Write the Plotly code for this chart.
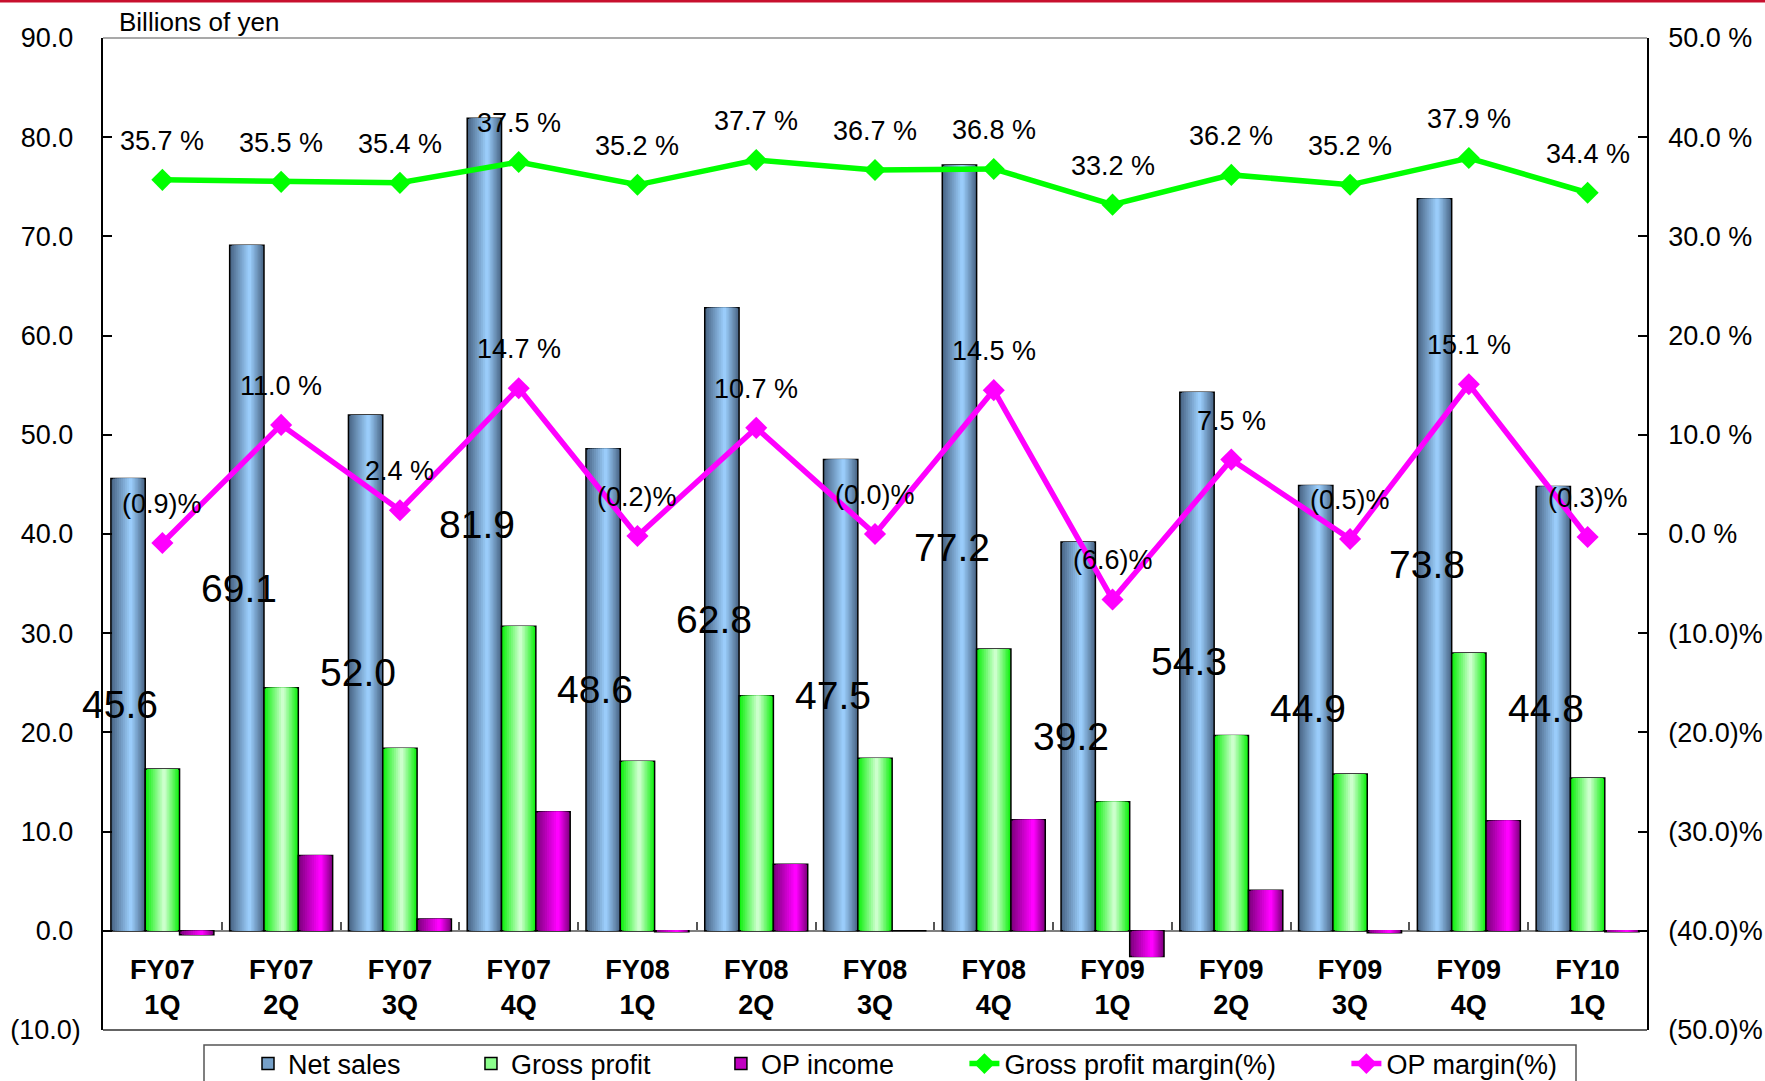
import math
import plotly.graph_objects as go

# Quarterly results, billions of yen
quarters = ["FY07<br>1Q", "FY07<br>2Q", "FY07<br>3Q", "FY07<br>4Q",
            "FY08<br>1Q", "FY08<br>2Q", "FY08<br>3Q", "FY08<br>4Q",
            "FY09<br>1Q", "FY09<br>2Q", "FY09<br>3Q", "FY09<br>4Q",
            "FY10<br>1Q"]
net_sales = [45.6, 69.1, 52.0, 81.9, 48.6, 62.8, 47.5, 77.2, 39.2, 54.3, 44.9, 73.8, 44.8]
gross_profit = [16.3, 24.5, 18.4, 30.7, 17.1, 23.7, 17.4, 28.4, 13.0, 19.7, 15.8, 28.0, 15.4]
op_income = [-0.4, 7.6, 1.2, 12.0, -0.1, 6.7, 0.0, 11.2, -2.6, 4.1, -0.2, 11.1, -0.1]

# Margins, percent
gross_margin = [35.7, 35.5, 35.4, 37.5, 35.2, 37.7, 36.7, 36.8, 33.2, 36.2, 35.2, 37.9, 34.4]
op_margin = [-0.9, 11.0, 2.4, 14.7, -0.2, 10.7, -0.0, 14.5, -6.6, 7.5, -0.5, 15.1, -0.3]

left_ticks = [-10, 0, 10, 20, 30, 40, 50, 60, 70, 80, 90]
right_ticks = [-50, -40, -30, -20, -10, 0, 10, 20, 30, 40, 50]

FONT = "Arial, Liberation Sans, sans-serif"
W, H = 1765, 1081
ML, MR, MT, MB = 103, 118, 38, 51
PW, PH = W - ML - MR, H - MT - MB


def px_x(p):
    return (p - ML) / PW


def px_y(p):
    return (H - MB - p) / PH


def is_negative(v):
    return v < 0 or (v == 0 and math.copysign(1.0, v) < 0)


def pct_text(v):
    return f"({abs(v):.1f})%" if is_negative(v) else f"{v:.1f} %"


def left_tick_text(v):
    return f"({abs(v):.1f})" if v < 0 else f"{v:.1f}\u00a0"


def hex_to_rgb(h):
    h = h.lstrip("#")
    return tuple(int(h[i:i + 2], 16) for i in (0, 2, 4))


def mix(c1, c2, t):
    a, b = hex_to_rgb(c1), hex_to_rgb(c2)
    return "rgb(%d,%d,%d)" % tuple(round(a[i] + (b[i] - a[i]) * t) for i in range(3))


BW = 0.289  # width of one bar, in category units
LAYERS = 10

fig = go.Figure()


def gradient_bars(values, left, edge, peak, peak_pos):
    """Cylinder-style bars built from nested bars of narrowing width."""
    for k in range(LAYERS):
        t = k / LAYERS
        lo = left + BW * peak_pos * t
        hi = left + BW - BW * (1 - peak_pos) * t
        fig.add_trace(go.Bar(
            x=quarters, y=values, offset=lo, width=hi - lo,
            marker=dict(color=mix(edge, peak, k / (LAYERS - 1)),
                        line=dict(color="black", width=1.5 if k == 0 else 0)),
            showlegend=False, hoverinfo="skip" if k else None,
        ))


gradient_bars(net_sales, -1.5 * BW, "#4a6787", "#9accfa", 0.58)
gradient_bars(gross_profit, -0.5 * BW, "#10f010", "#ccffcc", 0.55)
gradient_bars(op_income, 0.5 * BW, "#800080", "#ff00ff", 0.65)

# legend entries for the bar series
pad = "\u00a0" * 8 + "\u2009"
for name, col in [("Net sales", "#76a0c8"), ("Gross profit", "#8cff8c"), ("OP income", "#c000c0")]:
    fig.add_trace(go.Bar(x=[None], y=[None], name=name + pad,
                         marker=dict(color=col, line=dict(color="black", width=1.5))))

fig.add_trace(go.Scatter(
    x=quarters, y=gross_margin, yaxis="y2", mode="lines+markers",
    name="Gross profit margin(%)" + pad,
    line=dict(color="#00ff00", width=5.5),
    marker=dict(symbol="diamond", size=17, color="#00ff00"),
))
fig.add_trace(go.Scatter(
    x=quarters, y=op_margin, yaxis="y2", mode="lines+markers",
    name="OP margin(%)" + "\u00a0" * 2,
    line=dict(color="#ff00ff", width=5.5),
    marker=dict(symbol="diamond", size=17, color="#ff00ff"),
))

annotations = []
for q, v in zip(quarters, net_sales):
    annotations.append(dict(x=q, y=v / 2, xref="x", yref="y", text=f"{v:.1f}",
                            showarrow=False, xshift=-42,
                            font=dict(family=FONT, size=39, color="black")))
for series in (gross_margin, op_margin):
    for q, v in zip(quarters, series):
        annotations.append(dict(x=q, y=v, xref="x", yref="y2", text=pct_text(v),
                                showarrow=False, yshift=39, yanchor="middle",
                                font=dict(family=FONT, size=27, color="black")))
annotations.append(dict(x=px_x(117), y=px_y(22), xref="paper", yref="paper",
                        xanchor="left", yanchor="middle", showarrow=False,
                        text="Billions of yen",
                        font=dict(family=FONT, size=26, color="black")))

shapes = [
    # plot frame, top and bottom
    dict(type="line", xref="paper", yref="paper", x0=0, x1=1, y0=1, y1=1,
         line=dict(color="#8c8c8c", width=1.5)),
    dict(type="line", xref="paper", yref="paper", x0=0, x1=1, y0=0, y1=0,
         line=dict(color="#303030", width=1.5)),
    # legend frame
    dict(type="rect", xref="paper", yref="paper", x0=px_x(204), x1=px_x(1576),
         y0=px_y(1100), y1=px_y(1045), line=dict(color="#555555", width=1.5)),
    # red rule along the top of the page
    dict(type="rect", xref="paper", yref="paper", x0=px_x(-5), x1=px_x(W + 5),
         y0=px_y(2.5), y1=px_y(-1), line=dict(width=0), fillcolor="#c8102e"),
]

fig.update_layout(
    width=W, height=H, autosize=False,
    margin=dict(l=ML, r=MR, t=MT, b=MB, pad=0, autoexpand=False),
    paper_bgcolor="white", plot_bgcolor="white",
    barmode="overlay",
    font=dict(family=FONT, size=27, color="black"),
    showlegend=True,
    legend=dict(orientation="h", x=px_x(248), xanchor="left",
                y=px_y(1064), yanchor="middle",
                bgcolor="rgba(0,0,0,0)", borderwidth=0,
                font=dict(family=FONT, size=27, color="black"),
                traceorder="normal"),
    xaxis=dict(type="category", categoryorder="array", categoryarray=quarters,
               range=[-0.5, len(quarters) - 0.5],
               anchor="free", position=(0 - left_ticks[0]) / (left_ticks[-1] - left_ticks[0]),
               showline=True, linecolor="#808080", linewidth=2,
               ticks="inside", tickson="boundaries", ticklen=8, tickwidth=1.5,
               tickcolor="#555555", showgrid=False, zeroline=False,
               layer="below traces", ticklabelstandoff=15,
               tickfont=dict(family=FONT, size=27, color="black", weight="bold")),
    yaxis=dict(range=[left_ticks[0], left_ticks[-1]], tickmode="array",
               tickvals=left_ticks, ticktext=[left_tick_text(v) for v in left_ticks],
               ticks="inside", ticklen=9, tickwidth=1.5, tickcolor="black",
               showline=True, linecolor="black", linewidth=1.5,
               showgrid=False, zeroline=False, ticklabelstandoff=15,
               tickfont=dict(family=FONT, size=27, color="black")),
    yaxis2=dict(range=[right_ticks[0], right_ticks[-1]], overlaying="y", side="right",
                tickmode="array", tickvals=right_ticks,
                ticktext=[pct_text(v) for v in right_ticks],
                ticks="inside", ticklen=9, tickwidth=1.5, tickcolor="black",
                showline=True, linecolor="black", linewidth=1.5,
                showgrid=False, zeroline=False, ticklabelstandoff=14,
                tickfont=dict(family=FONT, size=27, color="black")),
    annotations=annotations,
    shapes=shapes,
)

fig.write_html("out.html")
